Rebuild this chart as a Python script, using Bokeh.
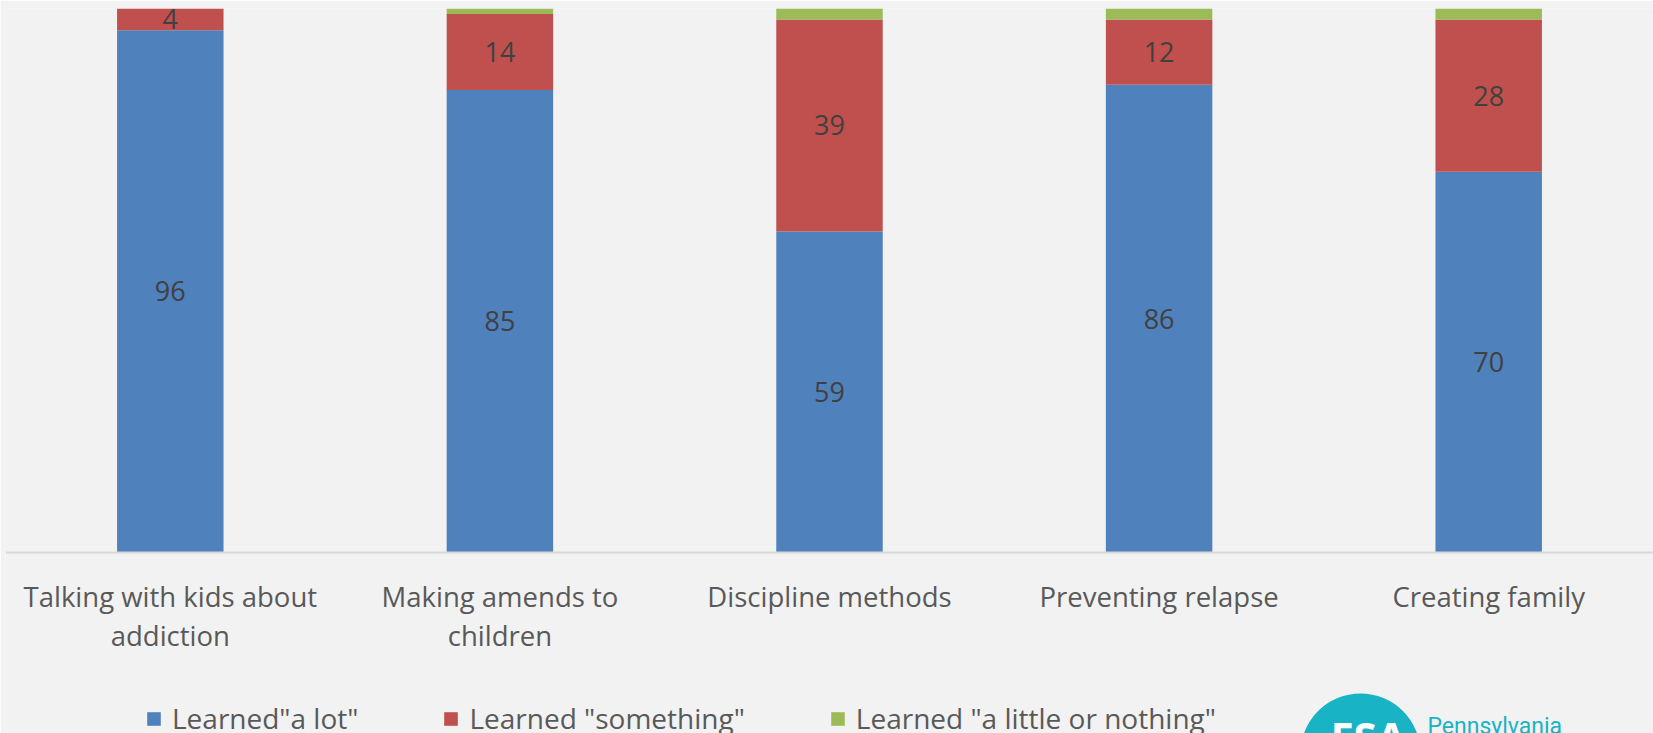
from bokeh.plotting import figure
from bokeh.models import (ColumnDataSource, FactorRange, Legend, LegendItem, LabelSet,
                          Label, BoxAnnotation, Span)
from bokeh.core.properties import value
from bokeh.embed import file_html
from bokeh.resources import INLINE

categories = ["Talking with kids about addiction", "Making amends to children",
              "Discipline methods", "Preventing relapse", "Creating family"]
tick_line1 = ["Talking with kids about", "Making amends to",
              "Discipline methods", "Preventing relapse", "Creating family"]
tick_line2 = ["addiction", "children", "", "", ""]
a_lot = [96, 85, 59, 86, 70]
something = [4, 14, 39, 12, 28]
little_or_nothing = [0, 1, 2, 2, 2]
series_names = ['Learned"a lot"', 'Learned "something"', 'Learned "a little or nothing"']
colors = ["#4f81bd", "#c0504d", "#9bbb59"]

BG = "#f2f2f2"
FONT = "Open Sans"

p = figure(x_range=FactorRange(factors=categories, range_padding=0),
           y_range=(-33.3, 100), width=1653, height=733,
           output_backend="svg", toolbar_location=None,
           background_fill_color=BG, border_fill_color=BG,
           min_border_left=5, min_border_right=0, min_border_top=8,
           min_border_bottom=0, outline_line_color=None)
p.xaxis.visible = False
p.yaxis.visible = False
p.xgrid.grid_line_color = None
p.ygrid.grid_line_color = None

src = ColumnDataSource(dict(
    cat=categories, a=a_lot, s=something, n=little_or_nothing,
    a_mid=[v / 2 for v in a_lot],
    s_mid=[a + s / 2 for a, s in zip(a_lot, something)],
    a_txt=[str(v) for v in a_lot],
    s_txt=[str(v) for v in something],
    l1=tick_line1, l2=tick_line2,
    y1=[-8.1] * len(categories), y2=[-15.3] * len(categories),
))

rs = p.vbar_stack(["a", "s", "n"], x="cat", width=0.323, source=src,
                  color=colors, line_color=None)

for ycol, tcol in (("a_mid", "a_txt"), ("s_mid", "s_txt")):
    p.add_layout(LabelSet(x="cat", y=ycol, text=tcol, source=src,
                          text_align="center", text_baseline="middle",
                          text_font=value(FONT), text_font_size="27px",
                          text_color="#404040"))

# category axis (baseline + two-line labels)
p.add_layout(Span(location=0, dimension="width", line_color="#d9d9d9", line_width=2))
for ycol, tcol in (("y1", "l1"), ("y2", "l2")):
    p.text(x="cat", y=ycol, text=tcol, source=src, text_align="center",
           text_baseline="middle", text_font=value(FONT), text_font_size="27.5px",
           text_color="#595959")

legend = Legend(items=[LegendItem(label=n, renderers=[r]) for n, r in zip(series_names, rs)],
                orientation="horizontal", location=(140, -4),
                label_text_font=FONT, label_text_font_size="28px",
                label_text_color="#595959", glyph_width=17, glyph_height=17,
                label_standoff=10, spacing=84, padding=0, margin=0,
                border_line_color=None, background_fill_alpha=0)
p.add_layout(legend, "center")

# partial logo at bottom right
p.add_layout(BoxAnnotation(left=1295, right=1415, bottom=-80, top=40,
                           left_units="screen", right_units="screen",
                           bottom_units="screen", top_units="screen",
                           border_radius=60, fill_color="#19b3c6", fill_alpha=1,
                           line_color=None, level="underlay"))
p.add_layout(Label(x=1325, y=-3, x_units="screen", y_units="screen", text="FSA",
                   text_font=FONT, text_font_size="42px", text_font_style="bold",
                   text_color="#ffffff", text_baseline="alphabetic"))
p.add_layout(Label(x=1422, y=7, x_units="screen", y_units="screen", text="Pennsylvania",
                   text_font="Roboto", text_font_size="23px",
                   text_color="#19b3c6", text_baseline="alphabetic"))

open("out.html", "w").write(file_html(p, INLINE))
